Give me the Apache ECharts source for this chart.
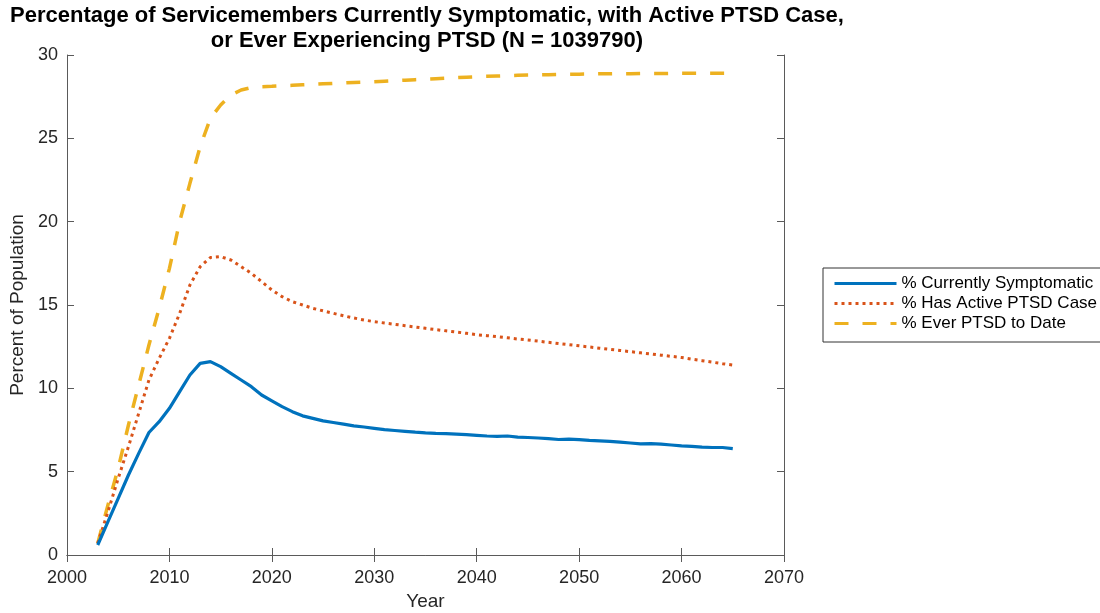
<!DOCTYPE html>
<html>
<head>
<meta charset="utf-8">
<script src="https://cdn.jsdelivr.net/npm/echarts@6/dist/echarts.min.js"></script>
<style>
html,body{margin:0;padding:0;background:#fff;}
#chart{width:1100px;height:613px;}
</style>
</head>
<body>
<div id="chart"></div>
<script>
const years = [];
for (let y = 2003; y <= 2065; y++) years.push(y);

const currentlySymptomatic = [
  0.6, 2.0, 3.4, 4.8, 6.1, 7.35, 8.0, 8.8, 9.8, 10.8,
  11.5, 11.6, 11.3, 10.9, 10.5, 10.1, 9.6, 9.25, 8.9, 8.6,
  8.35, 8.2, 8.05, 7.95, 7.85, 7.75, 7.68, 7.6, 7.52, 7.47,
  7.42, 7.37, 7.33, 7.3, 7.28, 7.25, 7.22, 7.18, 7.14, 7.12,
  7.14, 7.07, 7.05, 7.02, 6.98, 6.93, 6.95, 6.92, 6.88, 6.85,
  6.82, 6.77, 6.72, 6.67, 6.68, 6.65, 6.6, 6.55, 6.52, 6.47,
  6.45, 6.45, 6.38
];

const hasActiveCase = [
  0.7, 2.6, 4.6, 6.5, 8.5, 10.5, 11.8, 13.0, 14.5, 16.2,
  17.3, 17.85, 17.9, 17.7, 17.3, 16.9, 16.4, 15.9, 15.5, 15.2,
  15.0, 14.8, 14.65, 14.5, 14.35, 14.22, 14.1, 14.0, 13.92, 13.84,
  13.76, 13.68, 13.6, 13.52, 13.45, 13.38, 13.3, 13.22, 13.16, 13.1,
  13.03, 12.96, 12.9, 12.83, 12.76, 12.69, 12.62, 12.55, 12.48, 12.41,
  12.34, 12.27, 12.2, 12.13, 12.06, 11.99, 11.92, 11.85, 11.75, 11.66,
  11.57, 11.48, 11.4
];

const everPTSD = [
  0.7, 3.0, 5.2, 7.8, 10.2, 12.6, 14.8, 17.2, 20.0, 22.3,
  24.5, 26.2, 27.0, 27.6, 27.9, 28.05, 28.1, 28.12, 28.15, 28.18,
  28.21, 28.24, 28.27, 28.3, 28.32, 28.35, 28.37, 28.4, 28.43, 28.46,
  28.49, 28.52, 28.55, 28.58, 28.61, 28.64, 28.67, 28.7, 28.72, 28.74,
  28.76, 28.78, 28.8, 28.81, 28.82, 28.83, 28.84, 28.85, 28.86, 28.87,
  28.87, 28.88, 28.88, 28.89, 28.89, 28.89, 28.9, 28.9, 28.9, 28.9,
  28.9, 28.9, 28.9
];

const seriesNames = ['% Currently Symptomatic', '% Has Active PTSD Case', '% Ever PTSD to Date'];
const titleText = 'Percentage of Servicemembers Currently Symptomatic, with Active PTSD Case,\nor Ever Experiencing PTSD (N = 1039790)';

const pair = arr => years.map((y, i) => [y, arr[i]]);

const FONT = '"Liberation Sans", Arial, Helvetica, sans-serif';
const axisColor = '#5a5a5a';
const labelColor = '#262626';

const chart = echarts.init(document.getElementById('chart'), null, {renderer: 'canvas'});

const baseAxis = {
  axisLine: {show: true, lineStyle: {color: axisColor, width: 1}},
  axisTick: {show: true, inside: true, length: 7, lineStyle: {color: axisColor}},
  splitLine: {show: false}
};

chart.setOption({
  backgroundColor: '#ffffff',
  animation: false,
  graphic: [{
    type: 'text',
    left: 10,
    top: 3,
    style: {
      text: titleText,
      textAlign: 'center',
      font: 'bold 22px ' + FONT,
      fill: '#000',
      lineHeight: 25
    }
  }],
  grid: {left: 67, top: 55, width: 717, height: 500, outerBoundsMode: 'none', containLabel: false},
  legend: {
    orient: 'vertical',
    left: 823,
    top: 268,
    padding: [7, 10, 10, 10],
    borderColor: '#333',
    borderWidth: 1,
    backgroundColor: '#fff',
    itemWidth: 62,
    itemHeight: 14,
    itemGap: 3,
    itemStyle: {opacity: 0},
    lineStyle: {width: 3},
    textStyle: {fontFamily: FONT, fontSize: 17, color: '#000', lineHeight: 17},
    data: seriesNames
  },
  xAxis: [
    Object.assign({}, baseAxis, {
      type: 'value', min: 2000, max: 2070, interval: 10, position: 'bottom',
      name: 'Year', nameLocation: 'middle', nameGap: 37,
      nameTextStyle: {fontFamily: FONT, fontSize: 19, color: labelColor},
      axisLabel: {fontFamily: FONT, fontSize: 18, color: labelColor, margin: 14,
        formatter: v => String(v)}
    }),
    Object.assign({}, baseAxis, {
      type: 'value', min: 2000, max: 2070, interval: 10, position: 'top',
      axisLabel: {show: false}
    })
  ],
  yAxis: [
    Object.assign({}, baseAxis, {
      type: 'value', min: 0, max: 30, interval: 5, position: 'left',
      name: 'Percent of Population', nameLocation: 'middle', nameGap: 37,
      nameTextStyle: {fontFamily: FONT, fontSize: 19, color: labelColor},
      axisLabel: {fontFamily: FONT, fontSize: 18, color: labelColor, margin: 9}
    }),
    Object.assign({}, baseAxis, {
      type: 'value', min: 0, max: 30, interval: 5, position: 'right',
      axisLabel: {show: false}
    })
  ],
  series: [
    {
      name: seriesNames[0], type: 'line', showSymbol: false, symbol: 'none',
      data: pair(currentlySymptomatic),
      lineStyle: {color: '#0072BD', width: 3.2, type: 'solid'},
      itemStyle: {color: '#0072BD'}, z: 3
    },
    {
      name: seriesNames[1], type: 'line', showSymbol: false, symbol: 'none',
      data: pair(hasActiveCase),
      lineStyle: {color: '#D95319', width: 3, type: [3, 4]},
      itemStyle: {color: '#D95319'}, z: 2
    },
    {
      name: seriesNames[2], type: 'line', showSymbol: false, symbol: 'none',
      data: pair(everPTSD),
      lineStyle: {color: '#EDB120', width: 3.5, type: [14, 14]},
      itemStyle: {color: '#EDB120'}, z: 1
    }
  ]
});
</script>
</body>
</html>
